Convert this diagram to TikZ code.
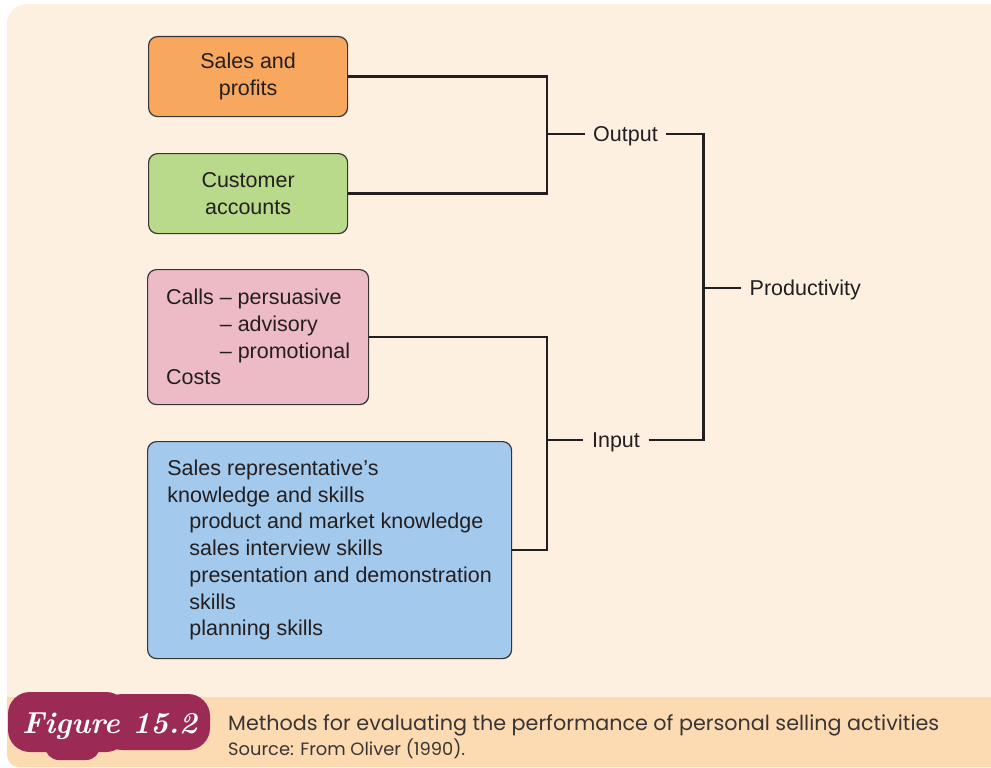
\documentclass[tikz,border=0pt]{standalone}
\usepackage{fontspec}
\usepackage{graphicx}
\newfontfamily\hv{Liberation Sans}
\newfontfamily\capfont{Poppins}
\definecolor{cream}{HTML}{FDF0E1}
\definecolor{band}{HTML}{FCDAB2}
\definecolor{maroon}{HTML}{9B2A54}
\definecolor{orangeb}{HTML}{F8A75E}
\definecolor{greenb}{HTML}{B9D98B}
\definecolor{pinkb}{HTML}{EDBBC6}
\definecolor{blueb}{HTML}{A3C9EC}
\definecolor{edge}{HTML}{3A3535}
\definecolor{ink}{HTML}{231F20}
\definecolor{captxt}{HTML}{3A3535}
\tikzset{
  box/.style={draw=edge, line width=1.2pt, rounded corners=9pt, anchor=north west,
    inner sep=0pt, align=#1, text=ink, font=\hv\fontsize{21.5}{26.7}\selectfont},
  box/.default=center,
  conn/.style={draw=ink, line width=2.4pt, line join=miter},
  lab/.style={inner xsep=8.5pt, inner ysep=0pt, text depth=0pt, text=ink, font=\hv\fontsize{21.5}{26.7}\selectfont}
}
\begin{document}
\begin{tikzpicture}[x=1pt,y=-1pt]
\useasboundingbox (0,0) rectangle (991,768);
\begin{scope}
\clip (0,0) rectangle (991,768);
% background
\fill[cream, rounded corners=20pt] (7,4) rectangle (1020,767);
\fill[band, rounded corners=12pt] (7,697) rectangle (1020,767);
\fill[band] (7,697) rectangle (60,730);
% figure badge
\fill[maroon, rounded corners=22pt] (8,692) rectangle (128,752);
\fill[maroon, rounded corners=22pt] (100,694) rectangle (210,750);
\fill[maroon, rounded corners=14pt] (45,722) rectangle (100,760);
\end{scope}
\node[anchor=base west, inner sep=0pt, text=white] (fig) at (22,733)
  {\resizebox{175pt}{!}{\bfseries\itshape\fontsize{30}{30}\selectfont Figure 15.2}};
\node[anchor=base west, inner sep=0pt, text=captxt] (cap) at (228,730)
  {\resizebox{711pt}{!}{\capfont Methods for evaluating the performance of personal selling activities}};
\node[anchor=base west, inner sep=0pt, text=captxt] (src) at (228,755)
  {\resizebox{237pt}{!}{\capfont Source: From Oliver (1990).}};

% boxes
\node[box, fill=orangeb, minimum width=199pt, minimum height=80pt] (sales) at (148,36)
  {Sales and\\profits};
\node[box, fill=greenb, minimum width=199pt, minimum height=80pt] (cust) at (148,153)
  {Customer\\accounts};
\node[box=left, fill=pinkb, minimum width=221pt, minimum height=135pt] (calls) at (147,269)
  {Calls – persuasive\\\hphantom{Calls\ }– advisory\\\hphantom{Calls\ }– promotional\\Costs};
\node[box=left, fill=blueb, minimum width=364pt, minimum height=217pt] (rep) at (147,441)
  {Sales representative’s\\knowledge and skills\\
   \hspace*{22pt}product and market knowledge\\
   \hspace*{22pt}sales interview skills\\
   \hspace*{22pt}presentation and demonstration\\
   \hspace*{22pt}skills\\
   \hspace*{22pt}planning skills};

% labels
\node[lab] (out) at (625.5,134) {Output};
\node[lab] (in) at (616,440) {Input};
\node[lab, anchor=west] (prod) at (741,288) {Productivity};

% junctions
\coordinate (jo) at (547,134);
\coordinate (ji) at (547,440);
\coordinate (jp) at (703.5,288);

% connectors
\draw[conn] (sales.east) -| (jo);
\draw[conn] (cust.east) -| (jo);
\draw[conn] (jo) -- (out.west);
\draw[conn] (calls.east) -| (ji);
\draw[conn] (rep.east) -| (ji);
\draw[conn] (ji) -- (in.west);
\draw[conn] (out.east) -| (jp);
\draw[conn] (in.east) -| (jp);
\draw[conn] (jp) -- (prod.west);
\end{tikzpicture}
\end{document}
